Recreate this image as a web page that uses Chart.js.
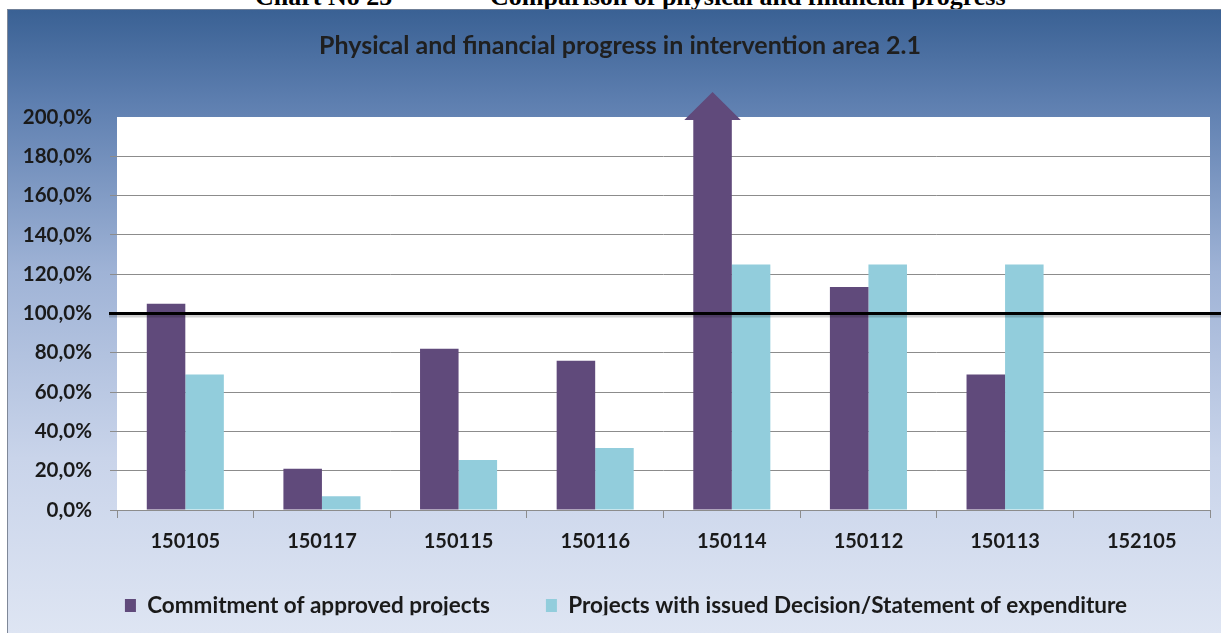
<!DOCTYPE html>
<html>
<head>
<meta charset="utf-8">
<script src="https://cdn.jsdelivr.net/npm/chart.js@4.4.1/dist/chart.umd.min.js"></script>
<style>
  html, body { margin: 0; padding: 0; background: #ffffff; width: 1221px; height: 633px; overflow: hidden; }
  .hdr { position: absolute; top: -18px; font-family: "Liberation Serif", "Times New Roman", serif; font-weight: bold; font-size: 26px; line-height: 30px; color: #000; white-space: nowrap; }
  #box { position: absolute; left: 7px; top: 9px; width: 1213px; height: 623px;
         border-left: 1px solid #7f8898; border-top: 1px solid #6f7f97;
         background: linear-gradient(to bottom, #3a6194 0%, #5e7fb0 15%, #9fb3d6 42%, #c9d4ea 72%, #dee5f3 100%); }
  #c { display: block; }
</style>
</head>
<body>
<div class="hdr" style="left:255px;">Chart No 25</div>
<div class="hdr" style="left:490px;">Comparison of physical and financial progress</div>
<div id="box"><canvas id="c" width="1213" height="623"></canvas></div>
<script>
const categories = ["150105", "150117", "150115", "150116", "150114", "150112", "150113", "152105"];
const commitment = [105, 21, 82, 76, 200, 113.5, 69, 0];
const issued = [69, 7, 25.5, 31.5, 125, 125, 125, 0];
const yTicks = [0, 20, 40, 60, 80, 100, 120, 140, 160, 180, 200];
const seriesNames = ["Commitment of approved projects", "Projects with issued Decision/Statement of expenditure"];
const overflowIndex = 4;   // bar exceeding the axis maximum, drawn with an arrow head
const referenceLevel = 100;

const FONT = "Lato, 'Open Sans', sans-serif";

const plotBg = {
  id: 'plotBg',
  beforeDraw(chart) {
    const {ctx, chartArea: a} = chart;
    ctx.save();
    ctx.fillStyle = '#ffffff';
    ctx.fillRect(a.left, a.top, a.right - a.left, a.bottom - a.top);
    ctx.restore();
  }
};

// nudge title and legend to the reference placement
const placeBoxes = {
  id: 'placeBoxes',
  afterLayout(chart) {
    const t = chart.titleBlock;
    if (t) { t.left += 11; t.right += 11; }
    const lg = chart.legend;
    if (lg) {
      const h = lg.bottom - lg.top;
      lg.top = 528.25; lg.bottom = lg.top + h;
      lg.left += 17; lg.right += 17;
    }
  }
};

const extras = {
  id: 'extras',
  afterDatasetsDraw(chart) {
    const {ctx} = chart;
    const meta = chart.getDatasetMeta(0);
    const bar = meta.data[overflowIndex];
    if (bar) {
      const half = bar.width / 2 + 9;
      const baseY = bar.y + 3;
      ctx.save();
      ctx.fillStyle = chart.data.datasets[0].backgroundColor;
      ctx.beginPath();
      ctx.moveTo(bar.x - half, baseY);
      ctx.lineTo(bar.x, baseY - 28);
      ctx.lineTo(bar.x + half, baseY);
      ctx.closePath();
      ctx.fill();
      ctx.restore();
    }
    const y = chart.scales.y.getPixelForValue(referenceLevel);
    ctx.save();
    ctx.strokeStyle = 'rgba(0,0,0,0.18)';
    ctx.lineWidth = 3;
    ctx.beginPath();
    ctx.moveTo(chart.chartArea.left - 8, y + 2.5);
    ctx.lineTo(chart.width, y + 2.5);
    ctx.stroke();
    ctx.strokeStyle = '#000000';
    ctx.lineWidth = 3;
    ctx.beginPath();
    ctx.moveTo(chart.chartArea.left - 8, y);
    ctx.lineTo(chart.width, y);
    ctx.stroke();
    ctx.restore();
  }
};

const chart = new Chart(document.getElementById('c'), {
  type: 'bar',
  data: {
    labels: categories,
    datasets: [
      { label: seriesNames[0], data: commitment, backgroundColor: '#604a7b', borderWidth: 0 },
      { label: seriesNames[1], data: issued, backgroundColor: '#92cddc', borderWidth: 0 }
    ]
  },
  options: {
    responsive: false,
    animation: false,
    events: [],
    layout: { padding: { left: 0, right: 11, top: 0, bottom: 0 } },
    datasets: { bar: { categoryPercentage: 0.564, barPercentage: 1.0 } },
    plugins: {
      title: {
        display: true,
        text: 'Physical and financial progress in intervention area 2.1',
        color: '#1f1f1f',
        font: { family: FONT, size: 25, weight: 'bold' },
        padding: { top: 21, bottom: 56 }
      },
      legend: {
        position: 'bottom',
        maxHeight: 77,
        labels: {
          color: '#1a1a1a',
          font: { family: FONT, size: 22.5, weight: 'bold' },
          boxWidth: 11,
          boxHeight: 13,
          padding: 56
        }
      },
      tooltip: { enabled: false }
    },
    scales: {
      x: {
        afterFit(axis) { axis.height = 46; },
        grid: { drawOnChartArea: false, drawTicks: true, tickLength: 8, color: '#8c8c8c', offset: true },
        border: { display: true, color: '#8c8c8c' },
        ticks: { color: '#1a1a1a', padding: 12, maxRotation: 0, autoSkip: false, font: { family: FONT, size: 20, weight: 'bold' } }
      },
      y: {
        min: 0,
        max: 200,
        afterFit(axis) { axis.width = 109; },
        afterBuildTicks(axis) { axis.ticks = yTicks.map(v => ({ value: v })); },
        grid: {
          color: ctx => (ctx.tick && ctx.tick.value === 200) ? 'rgba(0,0,0,0)' : '#8c8c8c',
          tickLength: 7
        },
        border: { display: false },
        ticks: {
          color: '#1a1a1a',
          padding: 18,
          font: { family: FONT, size: 20.5, weight: 'bold' },
          callback: v => v.toFixed(1).replace('.', ',') + '%'
        }
      }
    }
  },
  plugins: [plotBg, placeBoxes, extras]
});
</script>
</body>
</html>
